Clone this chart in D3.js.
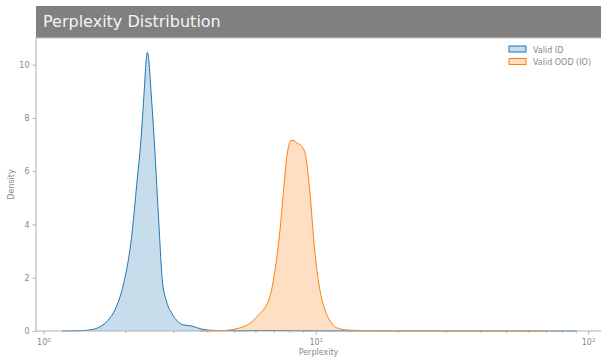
<!DOCTYPE html>
<html>
<head>
    <meta charset="utf-8">
    <title>Perplexity Distribution</title>
    <script type="text/javascript" src="https://cdn.jsdelivr.net/npm/d3@7"></script>
    <style type="text/css">
        html, body {
            margin: 0;
            background: #fff;
        }
        svg {
            display: block;
            font-family: "DejaVu Sans", sans-serif;
        }
        .tick text {
            fill: #8a8a8a;
            font-size: 8px;
            font-family: "DejaVu Sans", sans-serif;
        }
        .tick line {
            stroke: #b0b0b0;
        }
        .domain {
            stroke: #b0b0b0;
        }
    </style>
</head>
<body>
<svg></svg>
<script type="text/javascript">
    var w = 601, h = 357;

    // KDE curves (perplexity, density)
    var idPerplexity = [1.17, 1.30, 1.48, 1.61, 1.73, 1.83, 1.96, 2.11, 2.20, 2.28, 2.345, 2.38, 2.406, 2.44, 2.48, 2.55, 2.605, 2.66, 2.73, 2.82, 2.96, 3.08, 3.26, 3.50, 3.81, 4.27, 5.27, 6.5, 10, 20, 40, 91];
    var idDensity    = [0.0, 0.005, 0.04, 0.16, 0.41, 0.80, 1.70, 3.60, 5.50, 7.18, 9.06, 10.1, 10.46, 10.1, 9.06, 7.18, 5.50, 3.80, 1.92, 1.17, 0.66, 0.41, 0.23, 0.19, 0.07, 0.02, 0.01, 0.02, 0.005, 0.004, 0.003, 0.0];

    var oodPerplexity = [3.76, 4.45, 5.19, 5.73, 6.24, 6.42, 6.96, 7.22, 7.39, 7.60, 7.84, 8.11, 8.32, 8.53, 8.75, 9.13, 9.47, 9.93, 10.30, 10.81, 11.44, 12.09, 13.36, 17.2, 30, 70.6];
    var oodDensity    = [0.0, 0.01, 0.10, 0.29, 0.66, 0.79, 1.80, 2.92, 3.80, 5.20, 6.60, 7.15, 7.15, 7.05, 7.00, 6.68, 5.42, 2.92, 1.67, 0.79, 0.29, 0.10, 0.03, 0.01, 0.004, 0.0];

    var yTicks = [0, 2, 4, 6, 8, 10];
    var xMajor = [1, 10, 100];
    var xExponents = ["0", "1", "2"];
    var seriesNames = ["Valid ID", "Valid OOD (IO)"];
    var colors = ["#1f77b4", "#ff7f0e"];

    var padL = 36, padR = 601, padT = 38, padB = 331;

    var svg = d3.select("svg")
        .attr("width", w)
        .attr("height", h);

    var x = d3.scaleLog()
        .domain([0.9386, 111.5])
        .range([padL, padR]);

    var y = d3.scaleLinear()
        .domain([0, 11])
        .range([padB, padT]);

    var series = [
        d3.zip(idPerplexity, idDensity),
        d3.zip(oodPerplexity, oodDensity)
    ];

    var area = d3.area()
        .curve(d3.curveMonotoneX)
        .x(function(d){return x(d[0]);})
        .y0(y(0))
        .y1(function(d){return y(d[1]);});

    var line = d3.line()
        .curve(d3.curveMonotoneX)
        .x(function(d){return x(d[0]);})
        .y(function(d){return y(d[1]);});

    series.forEach(function(s, i){
        svg.append("path")
            .datum(s)
            .attr("d", area)
            .attr("fill", colors[i])
            .attr("fill-opacity", 0.25);
    });
    series.forEach(function(s, i){
        svg.append("path")
            .datum(s)
            .attr("d", line)
            .attr("fill", "none")
            .attr("stroke", colors[i])
            .attr("stroke-width", 1);
    });

    // x axis: major + minor ticks on log scale
    var minor = [];
    [1, 10].forEach(function(dec){
        for (var k = 2; k <= 9; ++k) minor.push(dec * k);
    });

    var xg = svg.append("g")
        .attr("transform", "translate(0," + padB + ")");
    xg.call(d3.axisBottom(x).tickValues(minor).tickSize(2).tickFormat(""))
        .select(".domain").remove();
    xg.append("line")
        .attr("class", "domain")
        .attr("x1", padL).attr("x2", padR);

    var xg2 = svg.append("g")
        .attr("transform", "translate(0," + padB + ")")
        .call(d3.axisBottom(x)
            .tickValues(xMajor)
            .tickSize(3.5)
            .tickPadding(3)
            .tickFormat(function(){return "";}));
    xg2.select(".domain").remove();
    // 10 with superscript exponent
    xg2.selectAll(".tick text").each(function(d, i){
        var t = d3.select(this).attr("dy", "0.9em");
        t.append("tspan").text("10");
        t.append("tspan")
            .attr("dy", "-0.45em")
            .style("font-size", "5.6px")
            .text(xExponents[i]);
    });

    var yg = svg.append("g")
        .attr("transform", "translate(" + padL + ",0)")
        .call(d3.axisLeft(y).tickValues(yTicks).tickSize(3.5).tickPadding(3));
    yg.select(".domain").remove();
    yg.append("line")
        .attr("class", "domain")
        .attr("y1", padT).attr("y2", padB);

    // title bar
    svg.append("rect")
        .attr("x", padL)
        .attr("y", 6)
        .attr("width", padR - padL)
        .attr("height", padT - 6)
        .attr("fill", "#808080");
    svg.append("line")
        .attr("x1", padL).attr("x2", padR)
        .attr("y1", padT).attr("y2", padT)
        .attr("stroke", "#c8c8c8");
    svg.append("text")
        .attr("x", 43)
        .attr("y", 27)
        .attr("fill", "#f4f4f4")
        .style("font-size", "16px")
        .text("Perplexity Distribution");

    // axis labels
    svg.append("text")
        .attr("x", (padL + padR) / 2)
        .attr("y", 355)
        .attr("text-anchor", "middle")
        .attr("fill", "#8a8a8a")
        .style("font-size", "8px")
        .text("Perplexity");
    svg.append("text")
        .attr("transform", "translate(14," + (padT + padB) / 2 + ") rotate(-90)")
        .attr("text-anchor", "middle")
        .attr("fill", "#8a8a8a")
        .style("font-size", "8px")
        .text("Density");

    // legend
    var legend = svg.append("g")
        .attr("transform", "translate(509,46)");
    seriesNames.forEach(function(name, i){
        var g = legend.append("g")
            .attr("transform", "translate(0," + (i * 12.5) + ")");
        g.append("rect")
            .attr("width", 17)
            .attr("height", 6)
            .attr("fill", colors[i])
            .attr("fill-opacity", 0.25)
            .attr("stroke", colors[i])
            .attr("stroke-width", 1);
        g.append("text")
            .attr("x", 24)
            .attr("y", 6.5)
            .attr("fill", "#8a8a8a")
            .style("font-size", "8px")
            .text(name);
    });
</script>
</body>
</html>
